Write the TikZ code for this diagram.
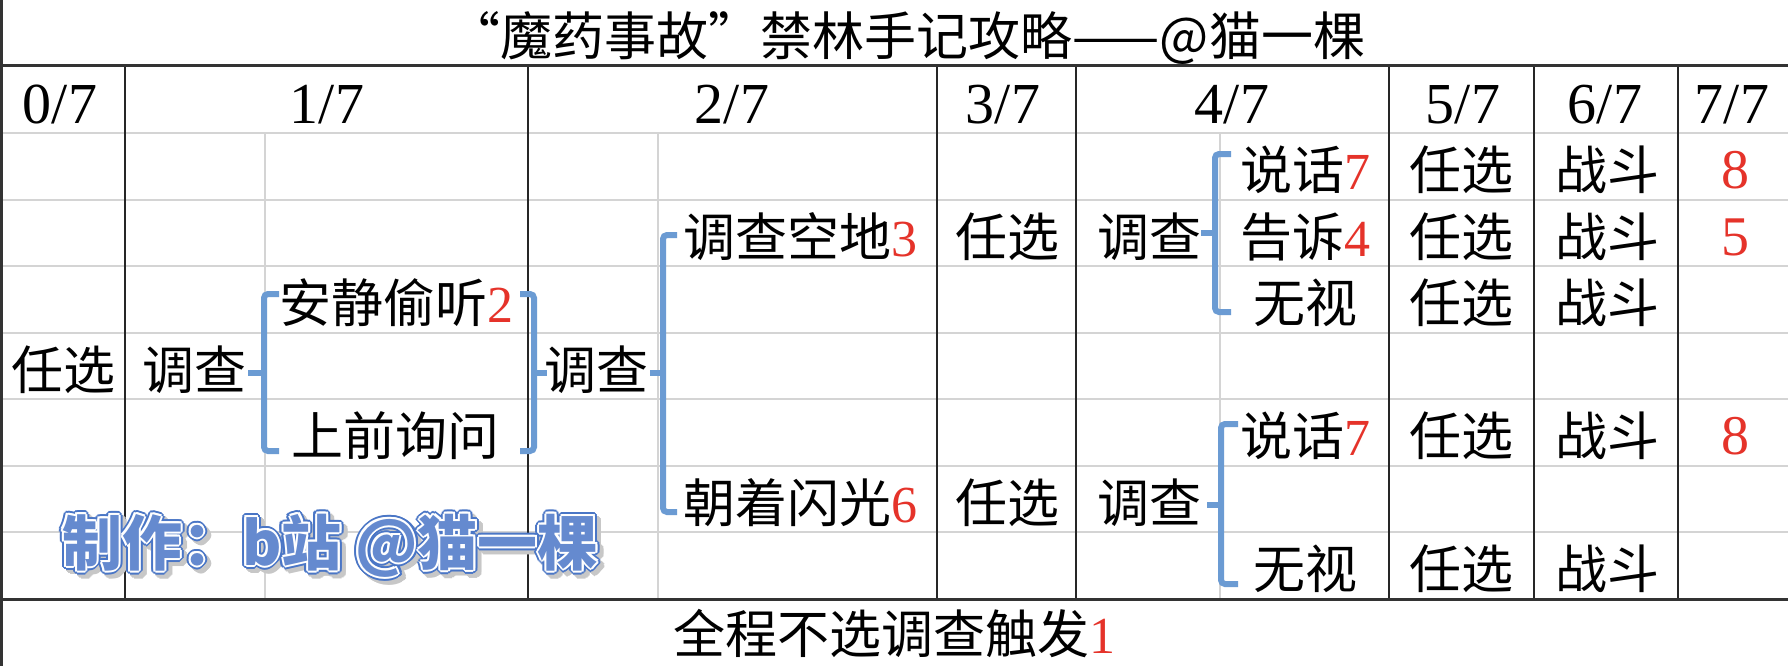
\documentclass[tikz,border=0pt]{standalone}
\usepackage{fontspec}
\setmainfont{Liberation Serif}
\newfontfamily\cjk{Noto Sans CJK SC}
\newfontfamily\dig{Liberation Serif}
\definecolor{gridgray}{HTML}{D4D4D4}
\definecolor{braceblue}{HTML}{6B9BD3}
\definecolor{numred}{HTML}{E5332A}
\definecolor{wmblue}{HTML}{4A76C6}
\newcommand{\rd}[1]{{\dig\color{numred}#1}}
\newcommand{\wmtext}{制作：b站 @猫一棵}
\begin{document}
\begin{tikzpicture}[x=0.5pt,y=-0.5pt,
  cell/.style={anchor=base,inner sep=0pt,font=\cjk\fontsize{26}{30}\selectfont},
  head/.style={anchor=base,inner sep=0pt,font=\dig\fontsize{29}{34}\selectfont},
  rnum/.style={anchor=base,inner sep=0pt,text=numred,font=\dig\fontsize{28}{32}\selectfont},
  wm/.style={anchor=base,inner sep=0pt,font=\cjk\bfseries\fontsize{30}{34}\selectfont},
  gridline/.style={draw=gridgray,line width=1pt},
  major/.style={draw=black!85,line width=1pt},
  heavy/.style={draw=black!80,line width=1.5pt},
  brace/.style={draw=braceblue,line width=3pt,rounded corners=2pt}]
\useasboundingbox (0,0) rectangle (1788,666);
\fill[white] (0,0) rectangle (1788,666);
% light grid
\foreach \yy in {133,199.5,266,332.5,399,465.5,532} \draw[gridline] (0,\yy) -- (1788,\yy);
\foreach \xx in {265,658,1220} \draw[gridline] (\xx,133) -- (\xx,599);
% major lines
\foreach \xx in {125,528,937,1076,1389,1534,1678} \draw[major] (\xx,65) -- (\xx,599);
\draw[heavy] (0,65) -- (1788,65);
\draw[heavy] (0,599) -- (1788,599);
\draw[heavy] (1,0) -- (1,666);
% title and footer
\node[cell] (title) at (907,55) {“魔药事故”禁林手记攻略——@猫一棵};
\node[cell] (foot) at (894,653) {全程不选调查触发\rd{1}};
% headers
\node[head] (h0) at (60,123) {0/7};
\node[head] (h1) at (327,123) {1/7};
\node[head] (h2) at (732,123) {2/7};
\node[head] (h3) at (1003,123) {3/7};
\node[head] (h4) at (1232,123) {4/7};
\node[head] (h5) at (1463,123) {5/7};
\node[head] (h6) at (1605,123) {6/7};
\node[head] (h7) at (1732,123) {7/7};
% watermark
\foreach \a [count=\i] in {0,22.5,...,337.5}
  \node[wm,text=black!22] (wms\i) at ({334+4*cos(\a)},{569+4*sin(\a)}) {\wmtext};
\foreach \a [count=\i] in {0,22.5,...,337.5}
  \node[wm,text=wmblue] (wmo\i) at ({330+4*cos(\a)},{565+4*sin(\a)}) {\wmtext};
\foreach \a [count=\i] in {0,45,...,315}
  \node[wm,text=white] (wmw\i) at ({330+2*cos(\a)},{565+2*sin(\a)}) {\wmtext};
\node[wm,text=wmblue!85] (wm) at (330,565) {\wmtext};
% row 1
\node[cell] (s1) at (1305,189) {说话\rd{7}};
\node[cell] (x51) at (1461,189) {任选};
\node[cell] (z61) at (1607,189) {战斗};
\node[rnum] (r71) at (1735,188) {8};
% row 2
\node[cell] (k2) at (800,256) {调查空地\rd{3}};
\node[cell] (x32) at (1007,256) {任选};
\node[cell] (d42) at (1149,256) {调查};
\node[cell] (g2) at (1305,256) {告诉\rd{4}};
\node[cell] (x52) at (1461,256) {任选};
\node[cell] (z62) at (1607,256) {战斗};
\node[rnum] (r72) at (1735,255) {5};
% row 3
\node[cell] (a3) at (396,322) {安静偷听\rd{2}};
\node[cell] (w3) at (1305,322) {无视};
\node[cell] (x53) at (1461,322) {任选};
\node[cell] (z63) at (1607,322) {战斗};
% row 4
\node[cell] (r0) at (63,389) {任选};
\node[cell] (d1) at (194,389) {调查};
\node[cell] (d2) at (596,389) {调查};
% row 5
\node[cell] (q5) at (395,455) {上前询问};
\node[cell] (s5) at (1305,455) {说话\rd{7}};
\node[cell] (x55) at (1461,455) {任选};
\node[cell] (z65) at (1607,455) {战斗};
\node[rnum] (r75) at (1735,454) {8};
% row 6
\node[cell] (c6) at (800,522) {朝着闪光\rd{6}};
\node[cell] (x36) at (1007,522) {任选};
\node[cell] (d46) at (1149,522) {调查};
% row 7
\node[cell] (w7) at (1305,588) {无视};
\node[cell] (x57) at (1461,588) {任选};
\node[cell] (z67) at (1607,588) {战斗};
% brackets
\draw[brace] (279,294) -- (264,294) -- (264,451) -- (279,451);
\draw[brace] (248,373) -- (264,373);
\draw[brace] (520,294) -- (534,294) -- (534,451) -- (520,451);
\draw[brace] (534,373) -- (547,373);
\draw[brace] (677,235) -- (663,235) -- (663,512) -- (677,512);
\draw[brace] (650,373) -- (663,373);
\draw[brace] (1231,154) -- (1215,154) -- (1215,312) -- (1231,312);
\draw[brace] (1201,233) -- (1215,233);
\draw[brace] (1238,424) -- (1221,424) -- (1221,584) -- (1238,584);
\draw[brace] (1207,505) -- (1221,505);
\end{tikzpicture}
\end{document}
